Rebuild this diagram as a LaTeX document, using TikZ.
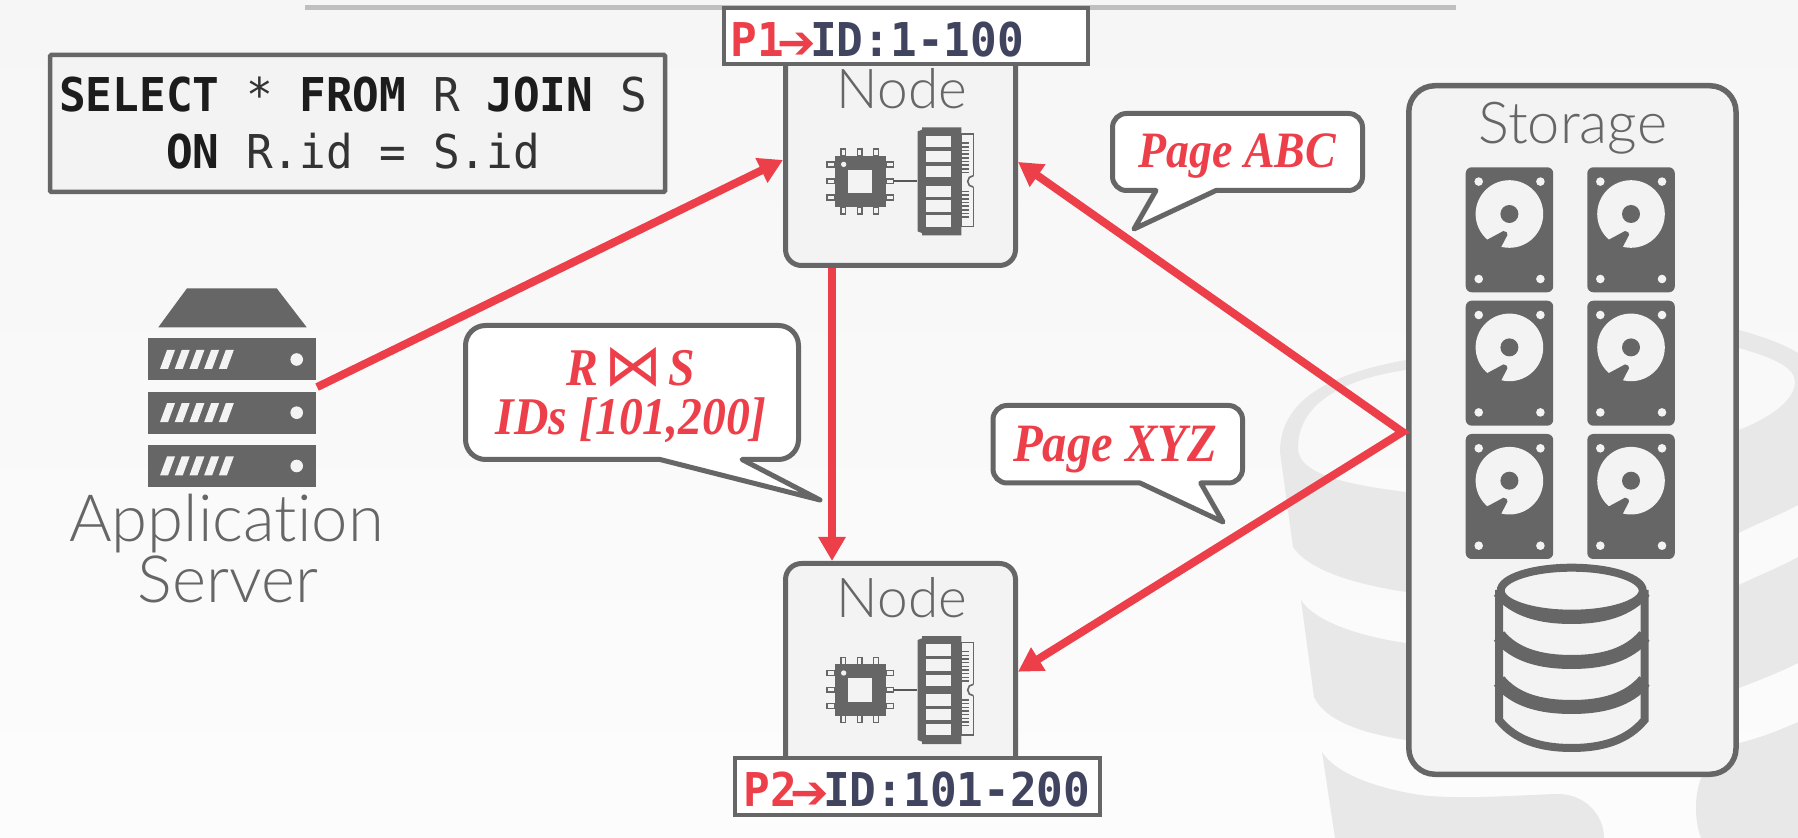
\documentclass[tikz,border=0pt]{standalone}
\usepackage{fontspec}
\usetikzlibrary{arrows.meta}
\setmainfont{Liberation Sans}
\newfontfamily\monof[FakeStretch=0.952]{DejaVu Sans Mono}
\newfontfamily\lightf[Ligatures=NoCommon]{Lato Light}
\newfontfamily\serifbi[FakeStretch=0.9]{Liberation Serif}
\newfontfamily\symf{DejaVu Sans}
\definecolor{gr}{HTML}{666666}
\definecolor{lt}{HTML}{F3F3F3}
\definecolor{rd}{HTML}{EC3F4A}
\definecolor{nv}{HTML}{41445F}
\definecolor{wm}{HTML}{E8E8E8}
\definecolor{ink}{HTML}{1C1C1C}
\definecolor{ink2}{HTML}{333333}
\newcommand{\sqlfont}{\monof\fontsize{23.3}{28}\selectfont}
\newcommand{\lb}[1]{{\bfseries\color{ink}#1}}
\newcommand{\callfont}{\serifbi\bfseries\itshape\fontsize{25.5}{30}\selectfont\color{rd}}
\newcommand{\tagarrow}{\makebox[13.2pt]{\symf\bfseries\fontsize{23}{24}\selectfont\smash{\raisebox{-1pt}{➔}}}}
\newcommand{\callout}[9]{%
  \draw[calloutbox,rounded corners=#9pt] (#5,#4) [sharp corners] -- (#7,#8) -- (#6,#4) [rounded corners=#9pt] -- (#2,#4) -- (#2,#3) -- (#1,#3) -- (#1,#4) [sharp corners] -- cycle;}
\tikzset{
  calloutbox/.style={draw=gr,fill=white,line width=2.5pt,line join=round},
  sysbox/.style={draw=gr,fill=lt,line width=2.5pt,rounded corners=8pt,inner sep=0pt,minimum width=115pt},
  tagbox/.style={draw=gr,fill=white,line width=2pt,inner sep=0pt},
  mono/.style={anchor=base,inner sep=0pt,font=\sqlfont},
  monoleft/.style={anchor=base west,inner sep=0pt,font=\sqlfont\bfseries},
  thin label/.style={anchor=base,inner sep=0pt,text=gr,font=\lightf\fontsize{27.5}{30}\selectfont},
  calltext/.style={anchor=base,inner sep=0pt,font=\callfont},
  flow/.style={draw=rd,line width=4pt,-{Triangle[length=12pt,width=13pt]}},
  flowboth/.style={draw=rd,line width=4pt,{Triangle[length=12pt,width=13pt]}-{Triangle[length=12pt,width=13pt]}},
  rack/.style={fill=gr,inner sep=0pt,outer sep=0pt,minimum width=83.85pt,minimum height=21pt},
  hdd/.pic={
    \fill[gr,rounded corners=3pt] (0,0) rectangle (87.5,125);
    \fill[lt] (43.7,46.7) circle (33.8);
    \fill[gr] (43.7,46.7) circle (9);
    \fill[gr] (21,72.7) -- (37.7,63.7) -- (41,65) -- (41.7,67.7) -- (35.3,80) -- (30,92) -- (15,85) -- cycle;
    \foreach \a/\b in {13/14.3,74.7/14.3,13/111.7,74.7/111.7} \fill[lt] (\a,\b) circle (4.3);
  },
  hw/.pic={
    \begin{scope}[x=.16667pt,y=-.16667pt]
    \fill[gr] (404,373) rectangle (558,527);
    \fill[lt] (445,415) rectangle (516,485);
    \fill[lt] (431,399) circle (8);
    \foreach \v in {430,479,528} {
      \draw[gr,fill=lt,line width=.8pt] (\v-7,352) rectangle (\v+7,373);
      \draw[gr,fill=lt,line width=.8pt] (\v-7,527) rectangle (\v+7,548);
    }
    \foreach \v in {399,449,498} {
      \draw[gr,fill=lt,line width=.8pt] (381,\v-7) rectangle (404,\v+7);
      \draw[gr,fill=lt,line width=.8pt] (558,\v-7) rectangle (580,\v+7);
    }
    \draw[gr!85!black,line width=.9pt] (580,450) -- (652,450);
    \draw[gr,fill=lt,line width=.8pt] (784,307) rectangle (820,585);
    \foreach \v in {335,346,...,425} \draw[gr,line width=.8pt] (784,\v) -- (806,\v);
    \foreach \v in {480,491,...,565} \draw[gr,line width=.8pt] (784,\v) -- (806,\v);
    \fill[lt] (820,450) circle (17);
    \draw[gr,line width=.8pt] (820,433) arc (270:90:17);
    \fill[gr] (666,288) -- (784,288) -- (784,612) -- (666,612) -- (666,605) -- (653,600) -- (653,300) -- (666,295) -- cycle;
    \foreach \a/\b in {313/348,358/392,404/438,463/497,507/541,552/586} \fill[lt] (679,\a) rectangle (754,\b);
    \end{scope}
  }
}
\begin{document}
\begin{tikzpicture}[x=.5pt,y=-.5pt]
\useasboundingbox (0,0) rectangle (1798,838);
% background
\begin{scope}
\clip (0,0) rectangle (1798,838);
\shade[top color=lt,bottom color=white] (0,-400) rectangle (1798,1200);
\end{scope}
% watermark
\fill[wm,even odd rule]
  (1280,452) .. controls (1280,395) and (1340,372) .. (1406,360)
  .. controls (1510,335) and (1640,305) .. (1738.7,330)
  .. controls (1765,337) and (1785,345) .. (1798,353)
  -- (1798,505) .. controls (1780,515) and (1760,522) .. (1738.7,533)
  .. controls (1650,575) and (1520,612) .. (1406,592)
  .. controls (1360,585) and (1310,572) .. (1293,547) -- cycle
  (1298,448) .. controls (1298,400) and (1350,378) .. (1406,370)
  .. controls (1520,345) and (1650,325) .. (1738.7,348)
  .. controls (1775,358) and (1795,368) .. (1795,382)
  .. controls (1795,400) and (1770,418) .. (1738.7,430)
  .. controls (1650,470) and (1520,505) .. (1406,492)
  .. controls (1350,485) and (1298,475) .. (1298,448) -- cycle;
\fill[wm] (1301,600) .. controls (1312,618) and (1350,635) .. (1406,643)
  .. controls (1520,660) and (1660,625) .. (1738.7,585)
  .. controls (1760,575) and (1780,567) .. (1798,557)
  -- (1798,663) .. controls (1780,672) and (1760,680) .. (1738.7,688)
  .. controls (1650,735) and (1520,755) .. (1406,740)
  .. controls (1360,733) and (1325,720) .. (1314,697) -- cycle;
\fill[wm] (1322,752) .. controls (1335,772) and (1370,787) .. (1420,795)
  .. controls (1460,800) and (1520,795) .. (1558,794)
  .. controls (1585,794) and (1604,815) .. (1604,838) -- (1335,838) -- cycle;
\fill[wm] (1798,722) .. controls (1780,730) and (1760,738) .. (1738.7,743)
  .. controls (1710,755) and (1696,775) .. (1696,808)
  .. controls (1696,820) and (1698,830) .. (1701,838) -- (1798,838) -- cycle;
% title rule
\draw[draw=black!25,line width=2.5pt] (305,8) -- (1456,8);
% SQL box
\node[draw=gr,fill=lt,line width=2.25pt,inner sep=0pt,minimum width=307.5pt,minimum height=68.5pt,rounded corners=.6pt] (sql) at (357.5,123.5) {};
\node[mono,text=ink2] (sqlA) at (353,112) {\lb{SELECT} * \lb{FROM} R \lb{JOIN} S};
\node[mono,text=ink2] (sqlB) at (353,169) {\lb{ON} R.id = S.id};
% server
\fill[gr] (187,288.3) -- (276.7,288.3) -- (306.7,327.3) -- (158.3,327.3) -- cycle;
\foreach \n/\c in {rackA/359.5,rackB/412.7,rackC/466} {
  \node[rack] (\n) at (232.2,\c) {};
  \fill[lt] (296.7,\c) circle (6.3);
  \foreach \k in {0,1,2,3,4}
    \fill[lt] (160+14.7*\k,\c+9.5) -- (167+14.7*\k,\c-9.5) -- (175+14.7*\k,\c-9.5) -- (168+14.7*\k,\c+9.5) -- cycle;
}
\node[thin label,font=\lightf\fontsize{32.6}{36}\selectfont] (appA) at (226.5,541.7) {Application};
\node[thin label,font=\lightf\fontsize{32.6}{36}\selectfont] (appB) at (228,603) {Server};
% callouts
\callout{465.5}{798.5}{325.5}{459.5}{660}{742}{820}{500}{10}
\node[calltext,font=\callfont\fontsize{26.5}{30}\selectfont] (joinT) at (631,386) {R\hspace{3pt}{\symf\fontsize{29}{30}\selectfont\mdseries\upshape\smash{⋈}}\hspace{3pt}S};
\node[calltext,font=\callfont\fontsize{26.5}{30}\selectfont] (idsT) at (631,435) {IDs [101,200]};
\callout{1112.5}{1362.5}{113.5}{190.5}{1156}{1216}{1134}{229}{7}
\node[calltext] (abcT) at (1237,168) {Page ABC};
\callout{993}{1242.5}{405.5}{483}{1140}{1200.7}{1223}{522}{7}
\node[calltext,font=\callfont\fontsize{27}{30}\selectfont] (xyzT) at (1115,461.7) {Page XYZ};
% nodes
\node[sysbox,minimum height=112.75pt] (n1) at (900.5,152.75) {};
\node[thin label] (n1T) at (902,109) {Node};
\pic at (700,31.4) {hw};
\node[sysbox,minimum height=108.25pt] (n2) at (900.5,671.75) {};
\node[thin label] (n2T) at (902,618) {Node};
\pic at (700,540) {hw};
% storage
\node[sysbox,rounded corners=13pt,line width=2.75pt,minimum width=163.6pt,minimum height=344.25pt] (st) at (1572.4,430) {};
\node[thin label,font=\lightf\fontsize{28.9}{32}\selectfont] (stT) at (1572.7,144) {Storage};
\foreach \px in {1465.7,1587.3} \foreach \py in {167.3,300.7,434} \pic at (\px,\py) {hdd};
% database icon
\draw[gr,fill=lt,line width=4pt] (1499,590) -- (1499,720) .. controls (1515,740) and (1540,748) .. (1571.7,748) .. controls (1603,748) and (1628,740) .. (1644.5,720) -- (1644.5,590);
\foreach \y in {617,662,707}
  \draw[gr,line width=7pt] (1499,\y-26) .. controls (1515,\y-7) and (1540,\y) .. (1571.7,\y) .. controls (1603,\y) and (1628,\y-7) .. (1644.5,\y-26);
\draw[gr,fill=lt,line width=4pt] (1571.7,590.7) ellipse (71 and 23);
% connectors
\draw[flow] ([shift={(.5pt,2.3pt)}]rackB.north east) -- ([yshift=-3.6pt]n1.west);
\draw[flow] ([xshift=-34.25pt]n1.south) -- ([xshift=-34.25pt]n2.north);
\draw[flowboth] ([yshift=-4.6pt]n1.east) -- ([shift={(-1.75pt,-1pt)}]st.west) -- (n2.east);
% partition tags
\node[tagbox,minimum width=182pt,minimum height=28pt] (p1) at (906,36) {};
\node[monoleft] (p1T) at (730,56.7) {\textcolor{rd}{P1\tagarrow}\textcolor{nv}{ID:1-100}};
\node[tagbox,minimum width=182.35pt,minimum height=28.35pt] (p2) at (917.35,786.35) {};
\node[monoleft] (p2T) at (743,806.7) {\textcolor{rd}{P2\tagarrow}\textcolor{nv}{ID:101-200}};
\end{tikzpicture}
\end{document}
